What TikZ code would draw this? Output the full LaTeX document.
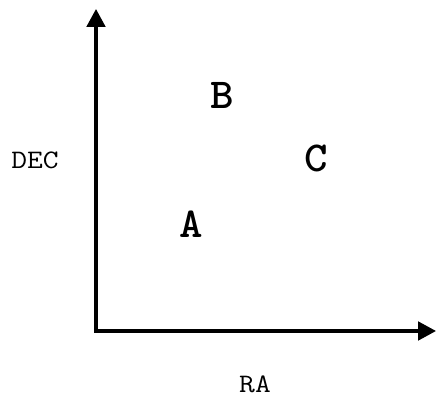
\documentclass[tikz,border=0pt]{standalone}
\usetikzlibrary{arrows.meta}
\begin{document}
\begin{tikzpicture}[x=0.75pt,y=-0.75pt,
  axis/.style={line width=2.3pt,line join=miter,{Triangle[length=13.5pt,width=14pt]}-{Triangle[length=13.5pt,width=14pt]}},
  axlabel/.style={inner sep=0pt,font=\ttfamily\fontsize{20}{22}\selectfont},
  pt/.style={inner sep=0pt,font=\ttfamily\bfseries\fontsize{32}{34}\selectfont}]
\useasboundingbox (0,0) rectangle (436,398);
\coordinate (ytip) at (96,9);
\coordinate (origin) at (96,331);
\coordinate (xtip) at (436,331);
\draw[axis] (ytip) -- (origin) -- (xtip);
\node[axlabel] (dec) at (35,160) {\scalebox{1.15}[1]{DEC}};
\node[axlabel,anchor=base] (ra) at (255,393) {\scalebox{1.15}[1]{RA}};
\node[pt] (b) at (222,95) {\scalebox{1.05}[1]{B}};
\node[pt] (c) at (316,158) {\scalebox{1.05}[1]{C}};
\node[pt] (a) at (191,224) {\scalebox{1.05}[1]{A}};
\end{tikzpicture}
\end{document}
